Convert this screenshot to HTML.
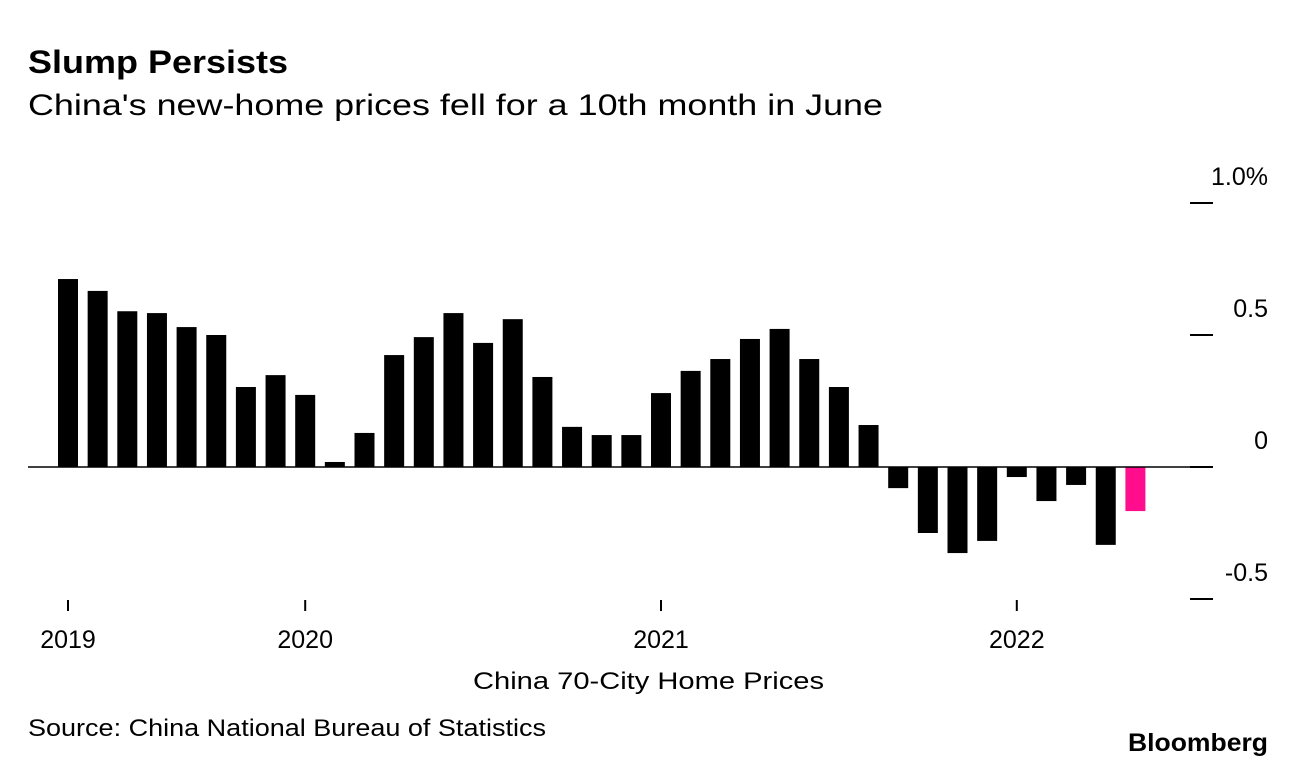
<!DOCTYPE html>
<html><head><meta charset="utf-8"><style>
body{margin:0;background:#fff;width:1296px;height:768px;overflow:hidden;font-family:"Liberation Sans",Arial,sans-serif}
svg{position:absolute;left:0;top:0}
</style></head><body>
<svg width="1296" height="768">
<text x="28" y="73" font-size="32" font-weight="bold" fill="#000" textLength="260" lengthAdjust="spacingAndGlyphs">Slump Persists</text>
<text x="28" y="115" font-size="30" fill="#000" textLength="855" lengthAdjust="spacingAndGlyphs">China's new-home prices fell for a 10th month in June</text>
<g id="grid"></g>
<g id="bars"></g>
<g id="xaxis"></g>
<text x="473" y="689" font-size="24" fill="#000" textLength="351" lengthAdjust="spacingAndGlyphs">China 70-City Home Prices</text>
<text x="28" y="736" font-size="24" fill="#000" textLength="518" lengthAdjust="spacingAndGlyphs">Source: China National Bureau of Statistics</text>
<text x="1128" y="751" font-size="25" font-weight="bold" fill="#000" textLength="140" lengthAdjust="spacingAndGlyphs">Bloomberg</text>
</svg>
<script>
const values=[0.712,0.667,0.59,0.583,0.53,0.5,0.303,0.348,0.273,0.019,0.129,0.424,0.492,0.583,0.47,0.56,0.341,0.152,0.121,0.121,0.28,0.364,0.409,0.485,0.523,0.409,0.303,0.159,-0.08,-0.25,-0.326,-0.28,-0.038,-0.129,-0.068,-0.295,-0.167];
const yTicks=[1.0,0.5,0,-0.5];
const yTickLabels=["1.0%","0.5","0","-0.5"];
const yearLabels=["2019","2020","2021","2022"];
const yearIndex=[0,8,20,32];
const NS="http://www.w3.org/2000/svg";
const y=v=>467-v*264;
const xc=i=>68+i*29.65;
const g=document.getElementById('grid'),b=document.getElementById('bars'),xa=document.getElementById('xaxis');
function mk(tag,attrs,parent){const e=document.createElementNS(NS,tag);for(const k in attrs)e.setAttribute(k,attrs[k]);parent.appendChild(e);return e;}
yTicks.forEach((t,i)=>{
 const l=mk('line',{x1:1190,x2:1213,y1:y(t),y2:y(t),stroke:'#000','stroke-width':2},g);
 
 
 const tx=mk('text',{x:1268,y:y(t)-18,'font-size':25,'text-anchor':'end',fill:'#000'},g);
 tx.textContent=yTickLabels[i];
 
 
});
values.forEach((v,i)=>{
 const r=mk('rect',{x:xc(i)-10,width:20,y:Math.min(y(v),y(0)),height:Math.abs(y(v)-y(0)),fill:i===values.length-1?'#ff0d8c':'#000'},b);
 
 
});
const zl=mk('line',{x1:28,x2:1213,y1:y(0),y2:y(0),stroke:'#000','stroke-width':1.5},b);


yearIndex.forEach((idx,i)=>{
 const t=mk('line',{x1:xc(idx),x2:xc(idx),y1:600,y2:611,stroke:'#000','stroke-width':2},xa);
 
 
 const tx=mk('text',{x:xc(idx),y:648,'font-size':25,'text-anchor':'middle',fill:'#000'},xa);
 tx.textContent=yearLabels[i];
 
 
});
</script>
</body></html>
